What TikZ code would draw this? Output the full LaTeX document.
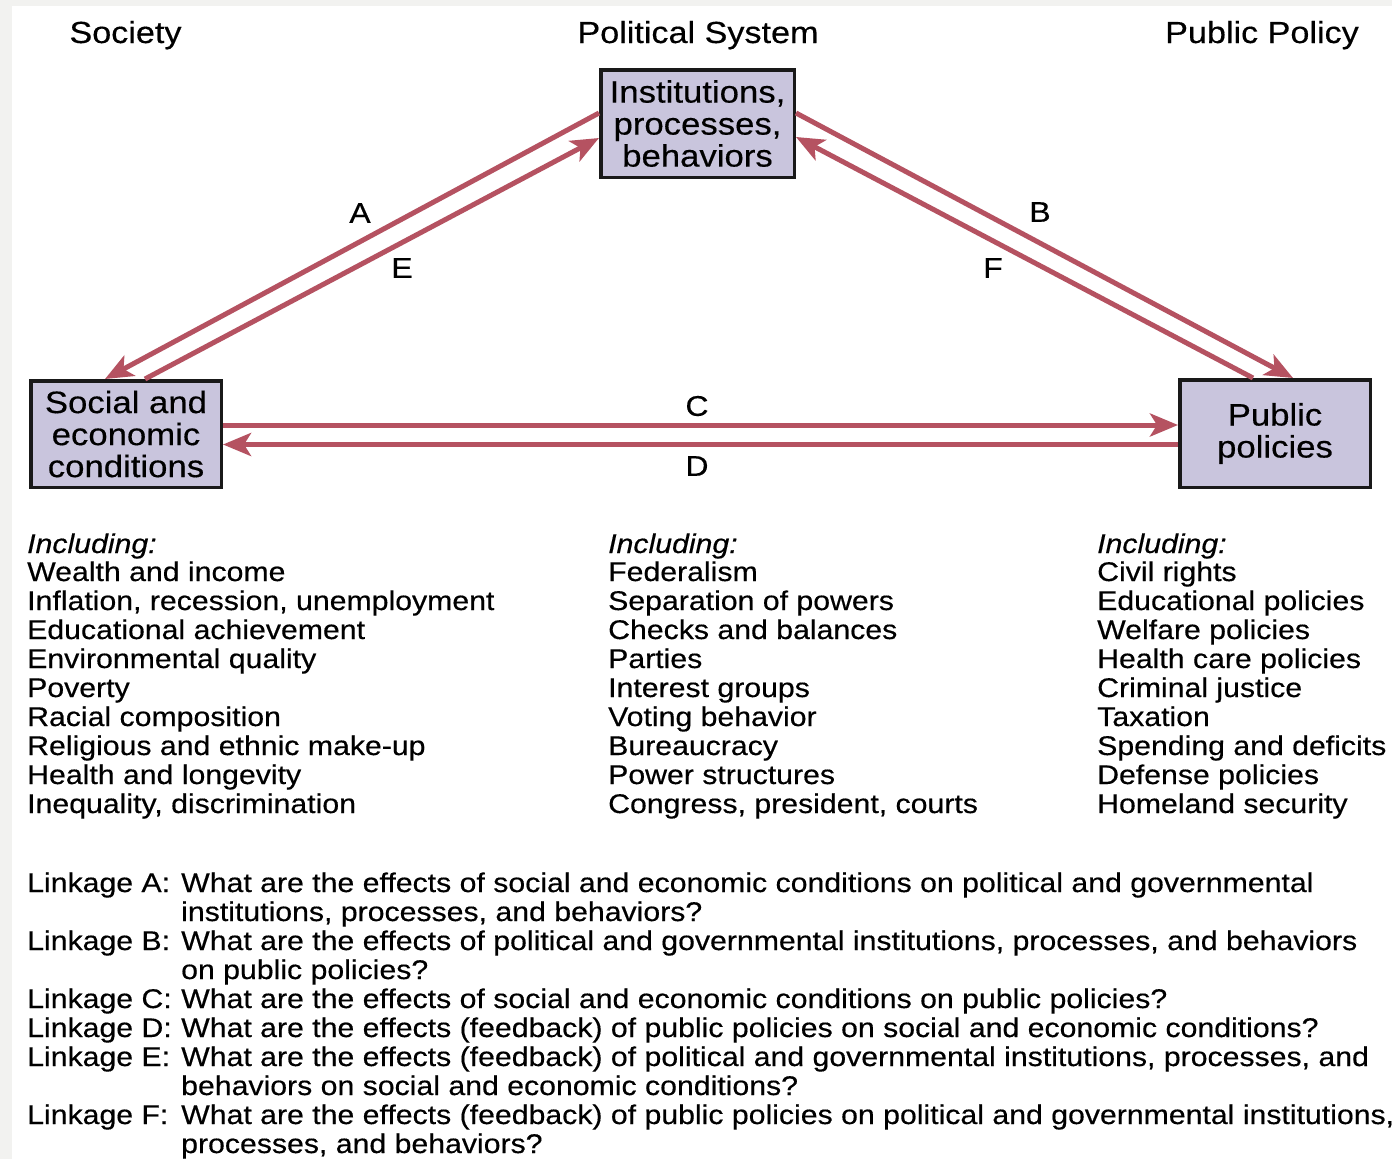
\documentclass[tikz,border=0pt]{standalone}
\usepackage{fontspec}
\setmainfont{Liberation Sans}[FakeStretch=1.12,FakeBold=0.4]
\usetikzlibrary{arrows.meta}
\definecolor{linkred}{RGB}{181,82,97}
\definecolor{boxfill}{RGB}{201,197,221}
\definecolor{pagegrey}{RGB}{242,242,240}
\begin{document}
\begin{tikzpicture}[x=1pt,y=-1pt,
  stage/.style={draw=black!90,line width=3.5pt,fill=boxfill,align=center,inner sep=0pt,
    font=\fontsize{31}{32}\selectfont},
  heading/.style={anchor=base,inner sep=0pt,font=\fontsize{30.5}{34}\selectfont},
  letter/.style={inner sep=0pt,font=\fontsize{28.5}{30}\selectfont},
  item/.style={anchor=base west,inner sep=0pt,font=\fontsize{27}{29}\selectfont},
  incl/.style={item,font=\fontsize{27}{29}\selectfont\itshape},
  link/.style={draw=linkred,line width=5pt,-{Stealth[length=28pt,width=23pt,inset=7pt]}}
]
% page and margins
\fill[pagegrey] (0,0) rectangle (1392,1159);
\fill[white] (12,6) rectangle (1392,1159);
\useasboundingbox (0,0) rectangle (1392,1159);

% column headings
\node[heading] (hsoc) at (125.5,43) {Society};
\node[heading] (hpol) at (698,43) {Political System};
\node[heading] (hpub) at (1262,43) {Public Policy};

% the three stages
\node[stage,minimum width=193.5pt,minimum height=107.5pt] (ips) at (697.5,123.5) {Institutions,\\processes,\\behaviors};
\node[stage,minimum width=190.5pt,minimum height=106.5pt] (sec) at (126,434) {Social and\\economic\\conditions};
\node[stage,minimum width=190.5pt,minimum height=107.5pt] (pol) at (1275,433.5) {Public\\policies};

% linkages
\draw[link] ([yshift=10.5pt]ips.west) -- ([xshift=-21pt]sec.north);   % A
\draw[link] ([xshift=19pt]sec.north) -- ([yshift=-14.5pt]ips.west);   % E
\draw[link] ([yshift=10.5pt]ips.east) -- ([xshift=18pt]pol.north);    % B
\draw[link] ([xshift=-22pt]pol.north) -- ([yshift=-13.5pt]ips.east);  % F
\draw[link] ([yshift=9pt]sec.east) -- ([yshift=9pt]sec.east -| pol.west);      % C
\draw[link] ([yshift=-11pt]pol.west) -- ([yshift=-11pt]pol.west -| sec.east);  % D

\node[letter] (la) at (360,213) {A};
\node[letter] (le) at (402,268) {E};
\node[letter] (lb) at (1040,212) {B};
\node[letter] (lf) at (993,268) {F};
\node[letter] (lc) at (697,406) {C};
\node[letter] (ld) at (697,466) {D};

% lists
\node[incl] (socinc) at (27,553) {Including:};
\foreach \t [count=\i] in {Wealth and income,{Inflation, recession, unemployment},
  Educational achievement,Environmental quality,Poverty,Racial composition,
  Religious and ethnic make-up,Health and longevity,{Inequality, discrimination}}
  \node[item] (soc\i) at (27,552+29*\i) {\t};

\node[incl] (polinc) at (608,553) {Including:};
\foreach \t [count=\i] in {Federalism,Separation of powers,Checks and balances,Parties,
  Interest groups,Voting behavior,Bureaucracy,Power structures,{Congress, president, courts}}
  \node[item] (sys\i) at (608,552+29*\i) {\t};

\node[incl] (pubinc) at (1097,553) {Including:};
\foreach \t [count=\i] in {Civil rights,Educational policies,Welfare policies,Health care policies,
  Criminal justice,Taxation,Spending and deficits,Defense policies,Homeland security}
  \node[item] (pub\i) at (1097,552+29*\i) {\t};

% linkage questions
\foreach \l/\r in {1/A,3/B,5/C,6/D,7/E,9/F}
  \node[item] (lk\r) at (27,863+29*\l) {Linkage \r:};
\foreach \t [count=\i] in {
  What are the effects of social and economic conditions on political and governmental,
  {institutions, processes, and behaviors?},
  {What are the effects of political and governmental institutions, processes, and behaviors},
  on public policies?,
  What are the effects of social and economic conditions on public policies?,
  What are the effects (feedback) of public policies on social and economic conditions?,
  {What are the effects (feedback) of political and governmental institutions, processes, and},
  behaviors on social and economic conditions?,
  {What are the effects (feedback) of public policies on political and governmental institutions,},
  {processes, and behaviors?}}
  \node[item] (q\i) at (181,863+29*\i) {\t};
\end{tikzpicture}
\end{document}
